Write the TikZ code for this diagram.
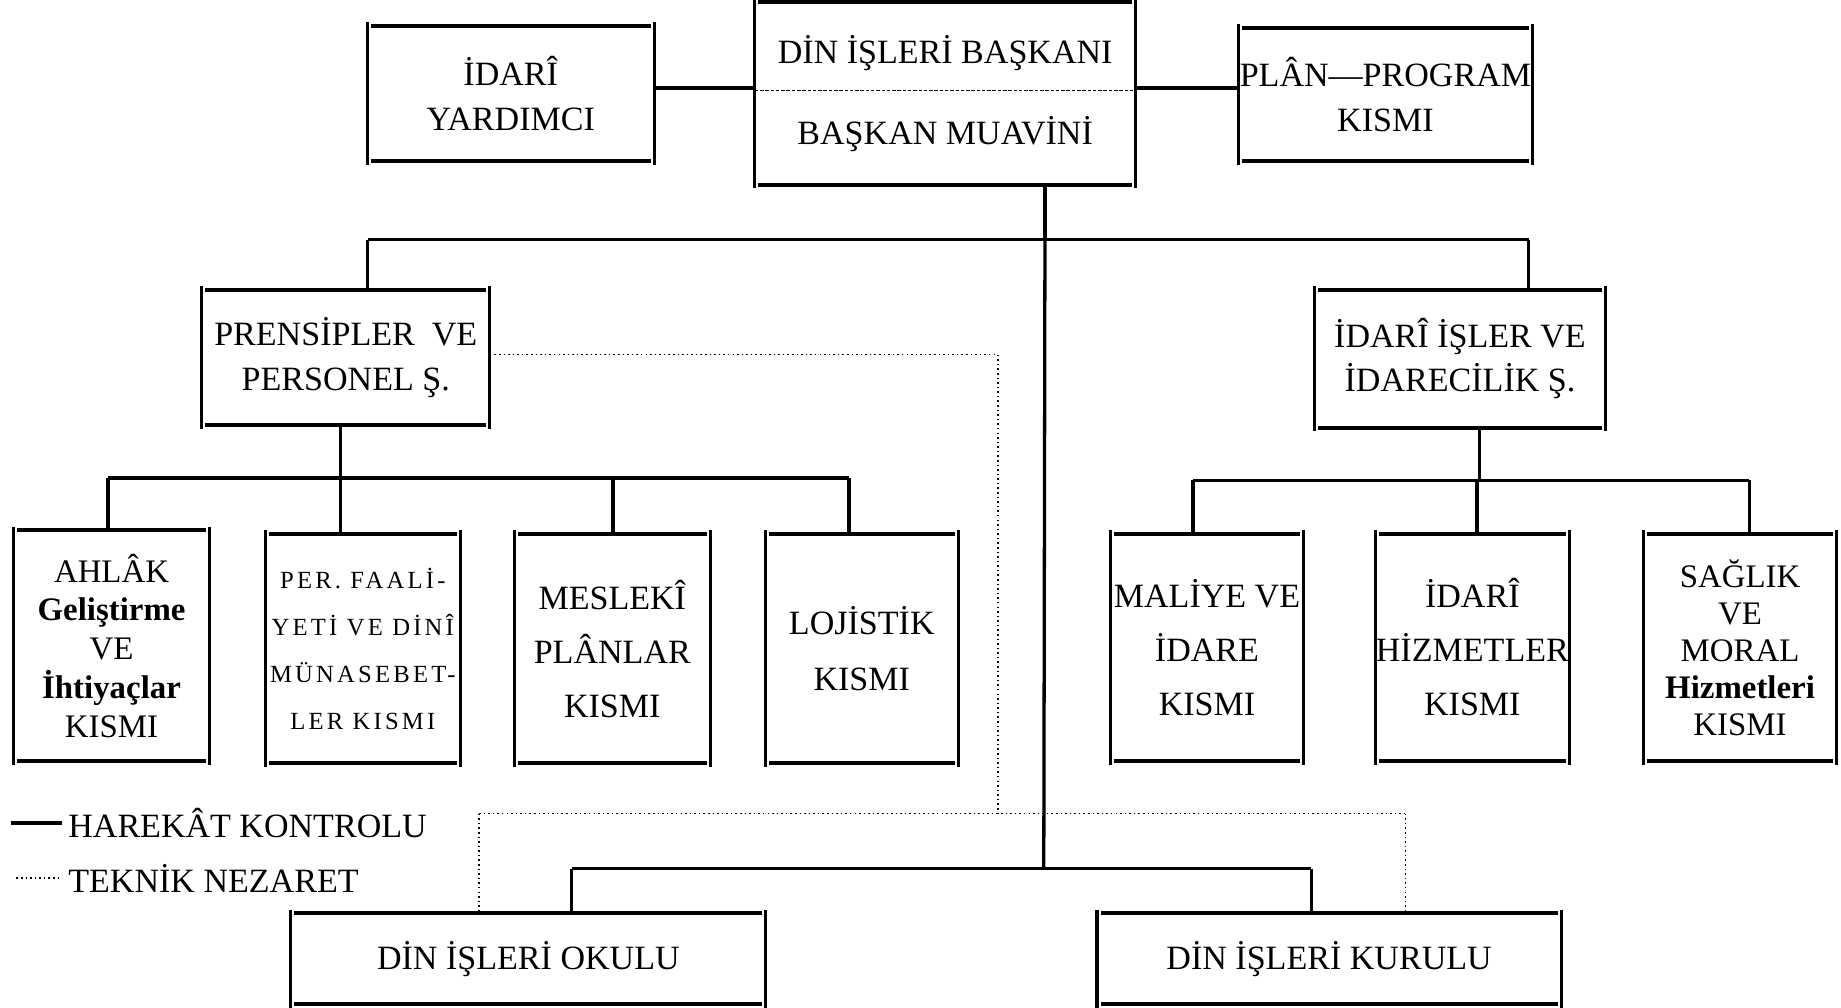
\documentclass[tikz,border=0pt]{standalone}
\usepackage{fontspec}
\setmainfont{Liberation Serif}
\newfontfamily\perfont[LetterSpace=13]{Liberation Serif}
\begin{document}
\begin{tikzpicture}[x=1pt,y=-1pt,
  box/.style={inner sep=0pt, align=center, font=\fontsize{29}{38}\selectfont},
  sz/.style 2 args={minimum width=#1pt, minimum height=#2pt},
  link/.style={line width=2.8pt},
  tech/.style={line width=1.3pt, dash pattern=on 1.3pt off 2.6pt},
  edgeh/.style={line width=3.4pt},
  edgev/.style={line width=2.6pt},
  legtext/.style={inner sep=0pt, anchor=west, font=\fontsize{29}{34}\selectfont}]
\useasboundingbox (0,0) rectangle (1568,858);
\fill[white] (0,0) rectangle (1568,858);

% top row
\node[box, sz={244}{115}] (yard) at (435,79.5) {İDARÎ\\YARDIMCI};
\node[box, sz={324}{155}] (main) at (805,79.5) {DİN İŞLERİ BAŞKANI\\[31pt]BAŞKAN MUAVİNİ};
\node[box, sz={250}{113}] (plan) at (1180,80.5) {PLÂN—PROGRAM\\KISMI};

% second row
\node[box, sz={245}{115}] (prens) at (294.5,304.5) {PRENSİPLER\enspace VE\\PERSONEL Ş.};
\node[box, sz={247}{117}] (idari) at (1243.5,305.5) {İDARÎ İŞLER VE\\İDARECİLİK Ş.};

% third row left
\node[box, sz={166}{196}, font=\fontsize{28}{33}\selectfont] (ahlak) at (95,550)
  {AHLÂK\\{\bfseries Geliştirme}\\VE\\{\bfseries İhtiyaçlar}\\KISMI};
\node[box, sz={166}{195}, font=\perfont\fontsize{21}{40}\selectfont] (per) at (309,552.5)
  {PER. FAALİ-\\YETİ VE DİNÎ\\MÜNASEBET-\\LER KISMI};
\node[box, sz={167}{195}, font=\fontsize{29}{46}\selectfont] (mesleki) at (521.5,552.5)
  {MESLEKÎ\\PLÂNLAR\\KISMI};
\node[box, sz={164}{195}, font=\fontsize{29}{47}\selectfont] (lojistik) at (734,552.5)
  {LOJİSTİK\\KISMI};

% third row right
\node[box, sz={164}{193}, font=\fontsize{29}{46}\selectfont] (maliye) at (1028,551.5)
  {MALİYE VE\\İDARE\\KISMI};
\node[box, sz={162}{193}, font=\fontsize{29}{46}\selectfont] (hizmet) at (1254,551.5)
  {İDARÎ\\HİZMETLER\\KISMI};
\node[box, sz={164}{193}, font=\fontsize{28}{31.5}\selectfont] (saglik) at (1482,551.5)
  {SAĞLIK\\VE\\MORAL\\{\bfseries Hizmetleri}\\KISMI};

% bottom row
\node[box, sz={404}{77}] (okulu) at (450,816.5) {DİN İŞLERİ OKULU};
\node[box, sz={395}{77}] (kurulu) at (1132,816.5) {DİN İŞLERİ KURULU};

% box edges
\foreach \n in {yard,main,plan,prens,idari,ahlak,per,mesleki,lojistik,maliye,hizmet,saglik,okulu,kurulu}{
  \draw[edgeh] ([xshift=3pt]\n.north west) -- ([xshift=-3pt]\n.north east);
  \draw[edgeh] ([xshift=3pt]\n.south west) -- ([xshift=-3pt]\n.south east);
  \draw[edgev] ([yshift=3pt]\n.north west) -- ([yshift=-3pt]\n.south west);
  \draw[edgev] ([yshift=3pt]\n.north east) -- ([yshift=-3pt]\n.south east);
}
% divider in main box
\coordinate (y77) at (0,77);
\draw[line width=0.9pt, dash pattern=on 3pt off 1.5pt] (main.west |- y77) -- (main.east |- y77);

% top connectors
\coordinate (y75) at (0,75);
\draw[link] (yard.east |- y75) -- (main.west |- y75);
\draw[link] (main.east |- y75) -- (plan.west |- y75);

\coordinate (tb) at (890,204);
\coordinate (tbL) at (313,204);
\coordinate (tbR) at (1302,204);
\coordinate (bb) at (889,740);
\draw[link] (main.south -| tb) -- (tb);
\draw[link] (tbL) -- (tbR);
\draw[link] (tbL) -- (tbL |- prens.north);
\draw[link] (tbR) -- (tbR |- idari.north);
\draw[link] (tb) -- (bb);

% left sub-tree
\coordinate (lb) at (290,407);
\coordinate (lbA) at (92,407);
\coordinate (lbB) at (290,407);
\coordinate (lbC) at (522,407);
\coordinate (lbD) at (723,407);
\draw[link] (prens.south -| lb) -- (lb);
\draw[link] (lbA) -- (lbD);
\draw[link] (lbA) -- (lbA |- ahlak.north);
\draw[link] (lbB) -- (lbB |- per.north);
\draw[link] (lbC) -- (lbC |- mesleki.north);
\draw[link] (lbD) -- (lbD |- lojistik.north);

% right sub-tree
\coordinate (rb) at (1260,409);
\coordinate (rbA) at (1016,409);
\coordinate (rbB) at (1258,409);
\coordinate (rbC) at (1490,409);
\draw[link] (idari.south -| rb) -- (rb);
\draw[link] (rbA) -- (rbC);
\draw[link] (rbA) -- (rbA |- maliye.north);
\draw[link] (rbB) -- (rbB |- hizmet.north);
\draw[link] (rbC) -- (rbC |- saglik.north);

% bottom bus
\coordinate (bbL) at (487,740);
\coordinate (bbR) at (1117,740);
\draw[link] (bbL) -- (bbR);
\draw[link] (bbL) -- (bbL |- okulu.north);
\draw[link] (bbR) -- (bbR |- kurulu.north);

% technical supervision (dotted)
\coordinate (dt1) at (850,302);
\coordinate (dt2) at (850,693);
\coordinate (dtL) at (408,693);
\coordinate (dtR) at (1197,693);
\draw[tech] (prens.east |- dt1) -- (dt1) -- (dt2);
\draw[tech] (dtL) -- (dtR);
\draw[tech] (dtL) -- (dtL |- okulu.north);
\draw[tech] (dtR) -- (dtR |- kurulu.north);

% legend
\node[legtext] (leg1) at (58,701) {HAREKÂT KONTROLU};
\node[legtext] (leg2) at (58,748) {TEKNİK NEZARET};
\coordinate (lg1) at (9,701);
\coordinate (lg2) at (14,748);
\draw[link] (lg1) -- ([xshift=-5pt]leg1.west);
\draw[tech] (lg2) -- ([xshift=-5pt]leg2.west);
\end{tikzpicture}
\end{document}
